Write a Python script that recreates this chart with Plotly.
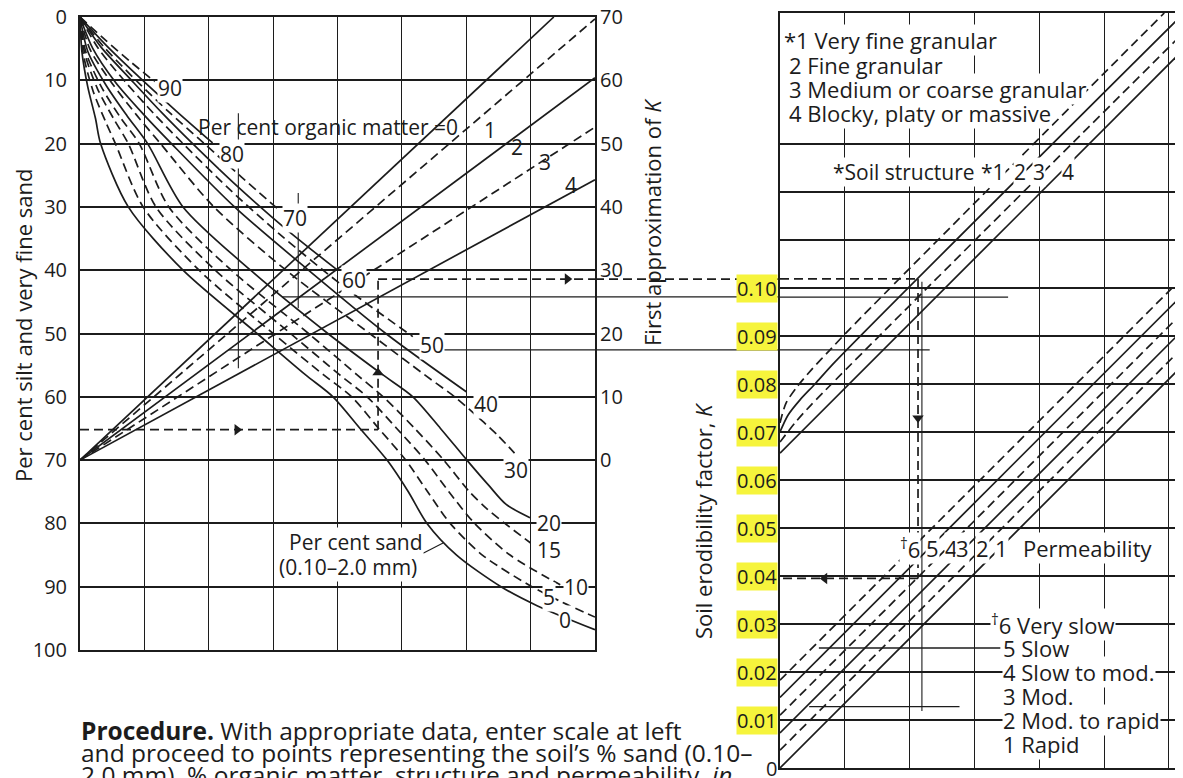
import plotly.graph_objects as go

W, H = 1183, 778
OFF = 8  # the page draws the figure 8 px in from its top-left corner
INK = "#1c1c1c"
FONT = "Open Sans, Noto Sans, DejaVu Sans, sans-serif"
DASH = "9px,5px"
LBL = 21

# ---------------- axis scales ----------------
silt_ticks = [0, 10, 20, 30, 40, 50, 60, 70, 80, 90, 100]
first_k_ticks = [0, 10, 20, 30, 40, 50, 60, 70]
k_ticks = [0.0, 0.01, 0.02, 0.03, 0.04, 0.05, 0.06, 0.07, 0.08, 0.09, 0.10]
k_tick_text = ["0", "0.01", "0.02", "0.03", "0.04", "0.05", "0.06", "0.07", "0.08", "0.09", "0.10"]
k_grid_upper = [0.11, 0.12, 0.13]

# ---------------- per cent sand curves (u = grid column, v = % silt + vfs) ----------------
sand90_u = [0, 0.4, 0.8, 1.16]
sand90_v = [0, 3.7, 7.2, 10.2]
sand80_u = [0, 0.4, 0.92, 1.5, 2.06]
sand80_v = [0, 4.4, 9.5, 14.9, 19.9]
sand70_u = [0, 0.36, 0.85, 1.38, 1.93, 2.5, 3.06]
sand70_v = [0, 4.6, 9.8, 15.0, 20.0, 25.2, 30.2]
sand60_u = [0, 0.33, 0.8, 1.27, 1.75, 2.45, 3.2, 4.0]
sand60_v = [0, 4.8, 10.0, 15.1, 20.0, 26.8, 33.5, 40.0]
sand50_u = [0, 0.28, 0.7, 1.15, 1.6, 2.3, 3.1, 4.1, 5.17]
sand50_v = [0, 4.9, 10.2, 15.3, 20.0, 27.0, 34.3, 42.6, 50.5]
sand40_u = [0, 0.2, 0.55, 0.98, 1.42, 2.4, 3.55, 4.75, 6.0]
sand40_v = [0, 5.0, 10.3, 15.3, 20.0, 30.0, 40.0, 50.0, 59.2]
sand30_u = [0, 0.16, 0.5, 0.88, 1.25, 2.08, 3.2, 4.5, 5.35, 5.82, 6.05, 6.48, 6.75]
sand30_v = [0, 5.2, 10.5, 15.5, 20.0, 30.0, 40.0, 50.0, 56.5, 60.0, 62.0, 66.0, 68.9]
sand20_u = [0, 0.12, 0.4, 0.73, 1.05, 1.6, 2.65, 3.85, 4.7, 5.17, 5.6, 6.01, 6.35, 6.62, 6.99]
sand20_v = [0, 5.4, 10.7, 15.6, 20.0, 30.0, 40.0, 50.0, 56.5, 60.0, 65.0, 70.0, 74.0, 77.0, 79.1]
sand15_u = [0, 0.09, 0.33, 0.63, 0.92, 1.38, 2.35, 3.55, 4.3, 4.71, 5.2, 5.65, 6.05, 6.3, 6.6, 7.0]
sand15_v = [0, 5.5, 11.0, 15.9, 20.0, 30.0, 40.0, 50.0, 56.5, 60.0, 65.0, 70.0, 75.0, 77.5, 80.0, 83.1]
sand10_u = [0, 0.07, 0.27, 0.53, 0.75, 1.18, 2.1, 3.27, 4.03, 4.46, 4.92, 5.36, 5.73, 6.13, 6.68, 7.46]
sand10_v = [0, 5.6, 11.3, 16.2, 20.0, 30.0, 40.0, 50.0, 56.5, 60.0, 65.0, 70.0, 75.0, 80.0, 85.0, 89.7]
sand5_u = [0, 0.05, 0.2, 0.4, 0.55, 0.98, 1.85, 3.0, 3.78, 4.22, 4.64, 5.06, 5.4, 5.75, 6.25, 7.02, 7.5, 8.0]
sand5_v = [0, 5.8, 11.6, 16.6, 20.0, 30.0, 40.0, 50.0, 56.5, 60.0, 65.0, 70.0, 75.0, 80.0, 85.0, 90.0, 92.5, 94.8]
sand0_u = [0, 0.03, 0.12, 0.24, 0.32, 0.75, 1.6, 2.75, 3.5, 3.93, 4.35, 4.77, 5.1, 5.39, 5.85, 6.54, 7.1, 8.0]
sand0_v = [0, 5.5, 11.0, 16.0, 20.0, 30.0, 40.0, 50.0, 56.5, 60.0, 65.0, 70.0, 75.0, 80.0, 85.0, 90.0, 93.0, 96.8]

sand_names = ["90", "80", "70", "60", "50", "40", "30", "20", "15", "10", "5", "0"]
sand_dashed = [True, False, True, False, True, False, True, False, True, True, True, False]
sand_label_u = [1.4, 2.36, 3.34, 4.26, 5.47, 6.3, 6.77, 7.28, 7.28, 7.7, 7.28, 7.53]
sand_label_v = [11.2, 21.7, 31.8, 41.5, 51.8, 61.1, 71.6, 80.0, 84.2, 90.0, 91.6, 95.3]

# ---------------- per cent organic matter lines ----------------
om_names = ["0", "1", "2", "3", "4"]
om_dashed = [False, True, False, True, False]
om_end_u = [7.36, 8.0, 8.0, 8.0, 8.0]
om_end_r = [70.0, 69.7, 60.4, 52.6, 44.3]
om_label_u = [6.37, 6.79, 7.22, 7.63]
om_label_v = [17.9, 20.5, 22.9, 26.5]

# ---------------- soil structure lines (c = grid column, K) ----------------
struct1_c = [0, 0.093, 0.262, 0.494, 0.772, 1.08, 5.93]
struct1_k = [0.0719, 0.0760, 0.0794, 0.0831, 0.0871, 0.0915, 0.1573]
struct2_c = [0, 0.123, 0.309, 0.540, 0.849, 6.34]
struct2_k = [0.0700, 0.0735, 0.0767, 0.0800, 0.0846, 0.1587]
struct3_c = [0, 0.231, 0.463, 6.34]
struct3_k = [0.0679, 0.0719, 0.0754, 0.1547]
struct4_c = [0, 6.34]
struct4_k = [0.0656, 0.1512]
struct_dashed = [True, False, True, False]

# ---------------- permeability lines ----------------
perm_names = ["6", "5", "4", "3", "2", "1"]
perm_dashed = [True, False, True, False, True, False]
perm_c = [0, 6.34]
perm_k_start = [0.0183, 0.0147, 0.0110, 0.0073, 0.0037, 0.0]
perm_k_end = [0.1039, 0.1003, 0.0966, 0.0929, 0.0893, 0.0856]

# ---------------- worked example path ----------------
ex_silt = 65.2
ex_sand_u = 4.63
ex_om_v = 41.4
ex_struct_k = 0.1019
ex_struct_c = 2.13
ex_final_k = 0.0395

aux_h_left_v = [44.2, 52.6]
aux_h_left_u0 = [3.14, 2.3]
aux_h_right_k = [0.0981, 0.0871]
aux_h_right_c1 = [3.52, 2.31]
aux_v_left_u = [2.46, 3.39]
aux_v_left_v0 = [15.2, 27.8]
aux_v_left_v1 = [55.5, 46.0]

fig = go.Figure()


def line(x, y, xa="x", ya="y", dashed=False, width=1.7, shape="linear"):
    fig.add_trace(go.Scatter(
        x=x, y=y, xaxis=xa, yaxis=ya, mode="lines", hoverinfo="skip", showlegend=False,
        line=dict(color=INK, width=width, dash=DASH if dashed else "solid", shape=shape,
                  smoothing=0.8)))


def head(x, y, symbol, xa="x", ya="y"):
    fig.add_trace(go.Scatter(
        x=[x], y=[y], xaxis=xa, yaxis=ya, mode="markers", hoverinfo="skip", showlegend=False,
        marker=dict(symbol=symbol, size=10, color=INK, line=dict(width=0))))


sand_u = [sand90_u, sand80_u, sand70_u, sand60_u, sand50_u, sand40_u,
          sand30_u, sand20_u, sand15_u, sand10_u, sand5_u, sand0_u]
sand_v = [sand90_v, sand80_v, sand70_v, sand60_v, sand50_v, sand40_v,
          sand30_v, sand20_v, sand15_v, sand10_v, sand5_v, sand0_v]
for u, v, d in zip(sand_u, sand_v, sand_dashed):
    line(u, v, dashed=d, shape="spline")

for eu, er, d in zip(om_end_u, om_end_r, om_dashed):
    line([0, eu], [0, er], ya="y3", dashed=d)

for c, k, d in zip([struct1_c, struct2_c, struct3_c, struct4_c],
                   [struct1_k, struct2_k, struct3_k, struct4_k], struct_dashed):
    line(c, k, xa="x2", ya="y2", dashed=d, shape="spline")

for k0, k1, d in zip(perm_k_start, perm_k_end, perm_dashed):
    line(perm_c, [k0, k1], xa="x2", ya="y2", dashed=d)

# worked example (dashed, with arrow heads)
line([0, ex_sand_u], [ex_silt, ex_silt], dashed=True)
line([ex_sand_u, ex_sand_u], [ex_silt, ex_om_v], dashed=True)
line([ex_sand_u, 8], [ex_om_v, ex_om_v], dashed=True)
line([0, ex_struct_c], [ex_struct_k, ex_struct_k], xa="x2", ya="y2", dashed=True)
line([ex_struct_c, ex_struct_c], [ex_struct_k, ex_final_k], xa="x2", ya="y2", dashed=True)
line([ex_struct_c, 0], [ex_final_k, ex_final_k], xa="x2", ya="y2", dashed=True)
head(2.44, ex_silt, "triangle-right")
head(ex_sand_u, 56.2, "triangle-up")
head(7.57, ex_om_v, "triangle-right")
head(ex_struct_c, 0.0729, "triangle-down", xa="x2", ya="y2")
head(0.69, ex_final_k, "triangle-left", xa="x2", ya="y2")

# auxiliary construction lines
for v, u0 in zip(aux_h_left_v, aux_h_left_u0):
    line([u0, 8], [v, v], width=1.3)
for k, c1 in zip(aux_h_right_k, aux_h_right_c1):
    line([0, c1], [k, k], xa="x2", ya="y2", width=1.3)
for u, v0, v1 in zip(aux_v_left_u, aux_v_left_v0, aux_v_left_v1):
    line([u, u], [v0, v1], width=1.1)
line([2.19, 2.19], [0.1013, 0.0119], xa="x2", ya="y2", width=1.1)
line([0.6, 3.4], [0.025, 0.025], xa="x2", ya="y2", width=1.3)
line([0.45, 2.77], [0.0128, 0.0128], xa="x2", ya="y2", width=1.3)
line([5.33, 5.64], [84.7, 83.1], width=1.1)


def px(p):
    return (p - OFF) / W


def py(p):
    return 1 - (p - OFF) / H


xL = [px(80), px(595)]
yL = [py(650), py(17)]
xR = [px(780), 1.0]
yR = [py(768), py(13)]
c_max = (W + OFF - 780) / 64.8

axis_common = dict(showline=True, linecolor=INK, linewidth=2, zeroline=False, ticks="",
                   gridcolor=INK, automargin=False, ticklabeloverflow="allow",
                   tickfont=dict(family=FONT, size=20, color=INK))

fig.update_layout(
    width=W, height=H, margin=dict(l=0, r=0, t=0, b=0, pad=0, autoexpand=False),
    paper_bgcolor="white", plot_bgcolor="white", showlegend=False,
    font=dict(family=FONT, color=INK, size=18),
    xaxis=dict(domain=xL, range=[0, 8], anchor="y", showgrid=True, gridwidth=1, dtick=1, tick0=0,
               showticklabels=False, mirror=True, **axis_common),
    yaxis=dict(domain=yL, range=[100, 0], anchor="x", showgrid=True, gridwidth=1.8,
               tickvals=silt_ticks, mirror=True, ticklabelstandoff=7, **axis_common),
    yaxis3=dict(overlaying="y", anchor="x", side="right", range=[-30, 70], tickvals=first_k_ticks,
                showgrid=False, zeroline=False, showline=False, ticks="", ticklabelstandoff=4,
                automargin=False, ticklabeloverflow="allow",
                tickfont=dict(family=FONT, size=20, color=INK)),
    xaxis2=dict(domain=xR, range=[0, c_max], anchor="y2", showgrid=True, gridwidth=1,
                dtick=1, tick0=0, showticklabels=False, mirror=True, **axis_common),
    yaxis2=dict(domain=yR, range=[0, (768 - 13) / 4800], anchor="x2", showgrid=True, gridwidth=1.8,
                tickvals=k_ticks + k_grid_upper, showticklabels=False, mirror=False, **axis_common),
)

# connecting segments across the gap between the two panels
shapes = [dict(type="line", xref="paper", yref="y", x0=xL[1], x1=xR[0], y0=ex_om_v, y1=ex_om_v,
               line=dict(color=INK, width=1.7, dash=DASH))]
for v in aux_h_left_v:
    shapes.append(dict(type="line", xref="paper", yref="y", x0=xL[1], x1=xR[0], y0=v, y1=v,
                       line=dict(color=INK, width=1.3)))
fig.update_layout(shapes=shapes)

ann = []


def text(t, x, y, xref="x", yref="y", size=LBL, xanchor="center", yanchor="middle", bg=None,
         angle=0, align="center"):
    d = dict(text=t, x=x, y=y, xref=xref, yref=yref, showarrow=False, xanchor=xanchor,
             yanchor=yanchor, textangle=angle, align=align,
             font=dict(family=FONT, size=size, color=INK), borderpad=0)
    if bg:
        d["bgcolor"] = bg
    ann.append(d)


for name, u, v in zip(sand_names, sand_label_u, sand_label_v):
    text(name, u, v, bg="white")
text("Per cent organic matter =0", 5.89, 17.4, xanchor="right")
for name, u, v in zip(om_names[1:], om_label_u, om_label_v):
    text(name, u, v)
text("(0.10–2.0 mm)", 4.16, 86.9, bg="white")
text("Per cent sand", 4.29, 82.9, bg="white")

for k, t in zip(k_ticks, k_tick_text):
    text(t, px(778), k, xref="paper", yref="y2", size=20, xanchor="right",
         bg=None if t == "0" else "#f6f43c")

text("Per cent silt and very fine sand", px(23), py(325), xref="paper", yref="paper", size=22, angle=-90)
text("First approximation of <i>K</i>", px(652), py(222), xref="paper", yref="paper", size=22, angle=-90)
text("Soil erodibility factor, <i>K</i>", px(703), py(521), xref="paper", yref="paper", size=22, angle=-90)

# soil structure legend (drawn bottom-up so that descenders stay visible)
struct_legend = ["*1 Very fine granular", "2 Fine granular", "3 Medium or coarse granular",
                 "4 Blocky, platy or massive"]
struct_legend_c = [0.05, 0.13, 0.13, 0.13]
struct_legend_k = [0.1517, 0.1465, 0.1415, 0.1365]
for t, c, k in list(zip(struct_legend, struct_legend_c, struct_legend_k))[::-1]:
    text(t, c, k, xref="x2", yref="y2", xanchor="left", bg="white", size=22)
text("*Soil structure", 0.8, 0.1242, xref="x2", yref="y2", xanchor="left", bg="white", size=21)
for t, c in zip(["*1", "2", "3", "4"], [3.28, 3.7, 4.0, 4.45]):
    text(t, c, 0.1242, xref="x2", yref="y2", size=21, bg="white")

for t, c in zip(["<sup>†</sup>6", "5", "4", "3", "2", "1"], [2.01, 2.36, 2.64, 2.82, 3.13, 3.42]):
    text(t, c, 0.0458, xref="x2", yref="y2", size=22, bg="white")
text("Permeability", 3.73, 0.0458, xref="x2", yref="y2", xanchor="left", bg="white", size=22)
perm_legend = ["<sup>†</sup>6 Very slow", "5 Slow", "4 Slow to mod.", "3 Mod.", "2 Mod. to rapid", "1 Rapid"]
perm_legend_c = [3.24, 3.43, 3.43, 3.43, 3.43, 3.43]
perm_legend_k = [0.030, 0.025, 0.020, 0.015, 0.010, 0.005]
for t, c, k in list(zip(perm_legend, perm_legend_c, perm_legend_k))[::-1]:
    text(t, c, k, xref="x2", yref="y2", xanchor="left", bg="white", size=22)

proc = ["<b>Procedure.</b> With appropriate data, enter scale at left",
        "and proceed to points representing the soil’s % sand (0.10–",
        "2.0 mm), % organic matter, structure and permeability, <i>in</i>"]
for i, t in enumerate(proc):
    text(t, px(80), py(730 + 22 * i), xref="paper", yref="paper", size=24.5, xanchor="left")

fig.update_layout(annotations=ann)
fig.write_html("out.html")
